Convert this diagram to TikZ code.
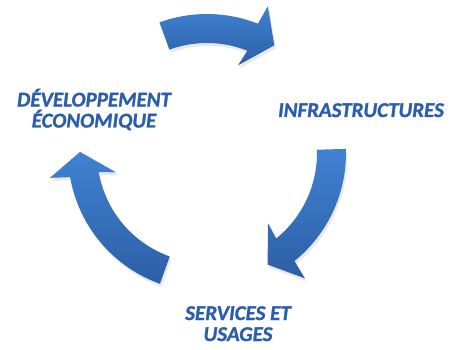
\documentclass[tikz,border=0pt]{standalone}
\usepackage{fontspec}
\setmainfont{Carlito}
\newfontfamily\labelfont{Carlito}[FakeBold=1.2]
\usetikzlibrary{shadows}
\definecolor{cyclelight}{RGB}{64,130,210}
\definecolor{cycledark}{RGB}{44,95,165}
\definecolor{labelblue}{RGB}{42,94,172}

\begin{document}
\begin{tikzpicture}[x=1pt,y=1pt,
  cyclearrow/.style={top color=cyclelight, bottom color=cycledark, draw=none,
    drop shadow={opacity=.18, shadow xshift=1.5pt, shadow yshift=-3pt}},
  cyclelabel/.style={anchor=base, align=center, inner sep=0pt, text=labelblue,
    font=\fontsize{21}{21}\selectfont\labelfont\bfseries\itshape}]
\useasboundingbox (0,0) rectangle (451,349);
\begin{scope}[shift={(207,196)}]
% top arrow
\path[cyclearrow] (110:139) arc[start angle=110, end angle=68.5, radius=139]
  -- (67.5:159) -- (58:127) -- (70.5:93) -- (68.5:110)
  arc[start angle=68.5, end angle=110, radius=110] -- cycle;
% right arrow
\path[cyclearrow] (1.7:139) arc[start angle=1.7, end angle=-51, radius=139]
  -- (-52:159) -- (-61.5:127) -- (-49:93) -- (-51:110)
  arc[start angle=-51, end angle=1.7, radius=110] -- cycle;
% left arrow
\path[cyclearrow] (250.2:139) arc[start angle=250.2, end angle=190, radius=139]
  -- (189:159) -- (179.5:127) -- (192:93) -- (190:110)
  arc[start angle=190, end angle=250.2, radius=110] -- cycle;
\end{scope}
% the three labels (base = last line)
\node[cyclelabel] (infra) at (361,232) {INFRASTRUCTURES};
\node[cyclelabel] (serv) at (238,8) {SERVICES ET\\USAGES};
\node[cyclelabel] (dev) at (94,221.5) {DÉVELOPPEMENT\\ÉCONOMIQUE};
\end{tikzpicture}
\end{document}
